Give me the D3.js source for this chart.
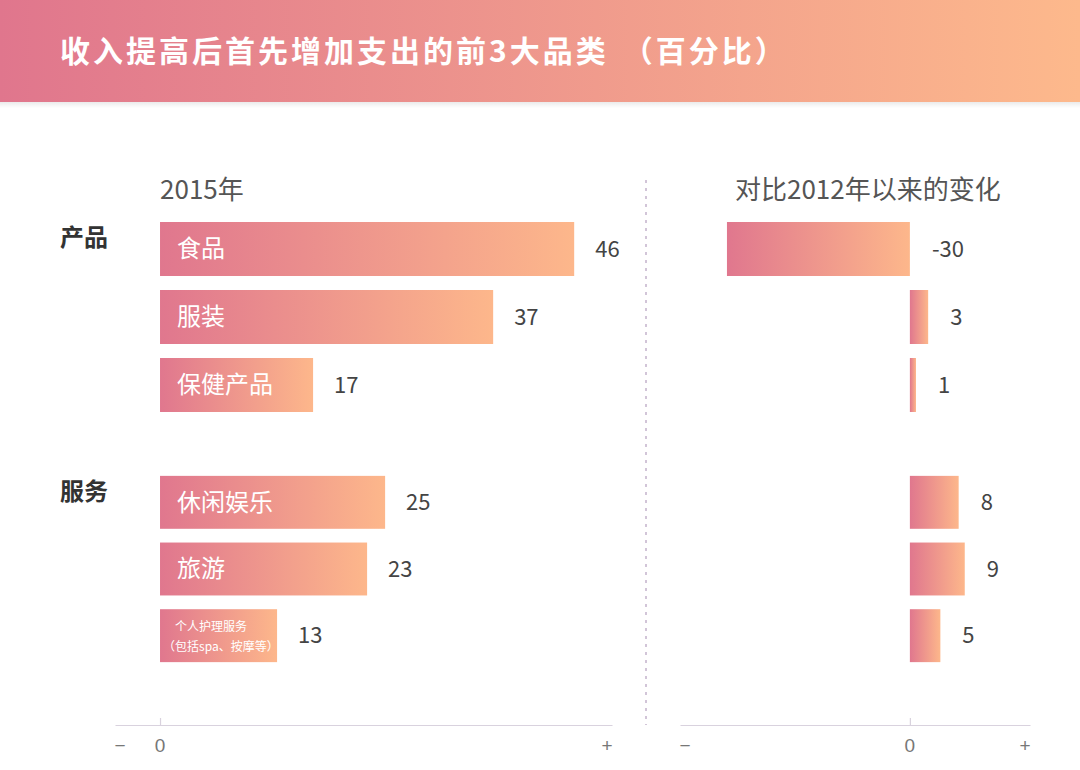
<!DOCTYPE html>
<html><head><meta charset="utf-8">
<script src="https://cdn.jsdelivr.net/npm/d3@7"></script>
<style>
html,body{margin:0;padding:0;background:#fff;}
svg{display:block;font-family:"Noto Sans CJK SC","Noto Sans",sans-serif;}
</style></head>
<body>
<svg id="chart" width="1080" height="770"></svg>
<script>
const titleMain = "收入提高后首先增加支出的前3大品类";
const titleUnit = "（百分比）";
const leftTitle = "2015年";
const rightTitle = "对比2012年以来的变化";
const groups = ["产品", "服务"];
const categories = ["食品", "服装", "保健产品", "休闲娱乐", "旅游", "个人护理服务"];
const categoryGroup = ["产品", "产品", "产品", "服务", "服务", "服务"];
const categoryLabelLines = [["食品"], ["服装"], ["保健产品"], ["休闲娱乐"], ["旅游"], ["个人护理服务", "（包括spa、按摩等）"]];
const values2015 = [46, 37, 17, 25, 23, 13];
const change2012 = [-30, 3, 1, 8, 9, 5];
const axisTickLabels = ["−", "0", "+"];

const svg = d3.select("#chart");
const defs = svg.append("defs");

const c0 = "#e0778e", c1 = "#fdb78b";
const hg = defs.append("linearGradient").attr("id", "hdrGrad").attr("x1", "0").attr("x2", "1").attr("y1", "0").attr("y2", "0");
hg.append("stop").attr("offset", "0%").attr("stop-color", "#e0768d");
hg.append("stop").attr("offset", "100%").attr("stop-color", "#fdb98c");
const bg = defs.append("linearGradient").attr("id", "barGrad").attr("x1", "0").attr("x2", "1").attr("y1", "0").attr("y2", "0");
bg.append("stop").attr("offset", "0%").attr("stop-color", c0);
bg.append("stop").attr("offset", "100%").attr("stop-color", c1);
const sh = defs.append("linearGradient").attr("id", "shadow").attr("x1", "0").attr("x2", "0").attr("y1", "0").attr("y2", "1");
sh.append("stop").attr("offset", "0%").attr("stop-color", "#000").attr("stop-opacity", 0.08);
sh.append("stop").attr("offset", "100%").attr("stop-color", "#000").attr("stop-opacity", 0);

// Header
svg.append("rect").attr("x", 0).attr("y", 102).attr("width", 1080).attr("height", 6).attr("fill", "url(#shadow)");
svg.append("rect").attr("x", 0).attr("y", 0).attr("width", 1080).attr("height", 102).attr("fill", "url(#hdrGrad)");
const tt = svg.append("text").attr("x", 60).attr("y", 51).attr("dy", "0.35em")
  .attr("fill", "#fff").attr("font-size", 30).attr("font-weight", 700).attr("letter-spacing", 3);
tt.append("tspan").text(titleMain);
tt.append("tspan").attr("dx", 14).text(titleUnit);

// Data rows
const rows = categories.map((c, i) => ({
  cat: c, group: categoryGroup[i], lines: categoryLabelLines[i], v: values2015[i], d: change2012[i]
}));

// y scales per group
const groupRange = { "产品": [215, 419], "服务": [469, 669] };
const yScales = {};
groups.forEach(g => {
  yScales[g] = d3.scaleBand()
    .domain(rows.filter(r => r.group === g).map(r => r.cat))
    .range(groupRange[g])
    .paddingInner(0.206).paddingOuter(0.103);
});
const yOf = r => yScales[r.group](r.cat);
const bw = r => yScales[r.group].bandwidth();

// x scales
const xL = d3.scaleLinear().domain([-5, 50.2]).range([115, 612]);
const xR = d3.scaleLinear().domain([-37.7, 19.7]).range([680, 1030]);

const axisY = 725;

// Panel titles
svg.append("text").attr("x", xL(0)).attr("y", 190).attr("dy", "0.35em")
  .attr("font-size", 26).attr("fill", "#555").text(leftTitle);
svg.append("text").attr("x", 735).attr("y", 190).attr("dy", "0.35em")
  .attr("font-size", 26).attr("fill", "#555").text(rightTitle);

// Group labels
groups.forEach(g => {
  const sc = yScales[g];
  const first = sc.domain()[0];
  svg.append("text").attr("x", 60).attr("y", sc(first) + 16).attr("dy", "0.35em")
    .attr("font-size", 24).attr("font-weight", 700).attr("fill", "#333").text(g);
});

// Divider
svg.append("line").attr("x1", 646).attr("x2", 646).attr("y1", 180).attr("y2", axisY)
  .attr("stroke", "#c4b2cc").attr("stroke-width", 1.5).attr("stroke-dasharray", "3,5");

// Left bars
const gL = svg.append("g");
gL.selectAll("rect.bar").data(rows).join("rect").attr("class", "bar")
  .attr("x", xL(0)).attr("y", yOf)
  .attr("width", r => xL(r.v) - xL(0)).attr("height", bw)
  .attr("fill", "url(#barGrad)");
gL.selectAll("text.val").data(rows).join("text").attr("class", "val")
  .attr("x", r => xL(r.v) + 21).attr("y", r => yOf(r) + bw(r) / 2).attr("dy", "0.35em")
  .attr("font-size", 22).attr("fill", "#444").text(r => r.v);
rows.forEach(r => {
  if (r.lines.length === 1) {
    gL.append("text").attr("x", xL(0) + 17).attr("y", yOf(r) + bw(r) / 2).attr("dy", "0.35em")
      .attr("font-size", 24).attr("fill", "#fff").text(r.lines[0]);
  } else {
    gL.append("text").attr("x", xL(0) + 15).attr("y", yOf(r) + bw(r) / 2 - 9).attr("dy", "0.35em")
      .attr("font-size", 12).attr("fill", "#fff").text(r.lines[0]);
    gL.append("text").attr("x", xL(0) + 3).attr("y", yOf(r) + bw(r) / 2 + 11).attr("dy", "0.35em")
      .attr("font-size", 12).attr("fill", "#fff").text(r.lines[1]);
  }
});

// Right bars
const gR = svg.append("g");
gR.selectAll("rect.bar").data(rows).join("rect").attr("class", "bar")
  .attr("x", r => Math.min(xR(0), xR(r.d))).attr("y", yOf)
  .attr("width", r => Math.abs(xR(r.d) - xR(0))).attr("height", bw)
  .attr("fill", "url(#barGrad)");
gR.selectAll("text.val").data(rows).join("text").attr("class", "val")
  .attr("x", r => Math.max(xR(0), xR(r.d)) + 22).attr("y", r => yOf(r) + bw(r) / 2).attr("dy", "0.35em")
  .attr("font-size", 22).attr("fill", "#444").text(r => r.d);

// Axes
function drawAxis(x) {
  const g = svg.append("g").attr("transform", `translate(0,${axisY})`)
    .call(d3.axisBottom(x).tickValues([0]).tickSize(-7).tickSizeOuter(0).tickFormat(() => ""));
  g.select(".domain").attr("stroke", "#d9d2de").attr("stroke-width", 1.2);
  g.selectAll(".tick line").attr("stroke", "#d9d2de").attr("stroke-width", 1.2);
  const [d0, d1] = x.domain();
  const pos = [x(d0) + 5, x(0), x(d1) - 5];
  g.selectAll("text.lab").data(axisTickLabels).join("text").attr("class", "lab")
    .attr("x", (t, i) => pos[i]).attr("y", 20).attr("dy", "0.35em")
    .attr("text-anchor", "middle").attr("font-size", 19).attr("fill", "#777")
    .text(t => t);
}
drawAxis(xL);
drawAxis(xR);
</script>
</body></html>
